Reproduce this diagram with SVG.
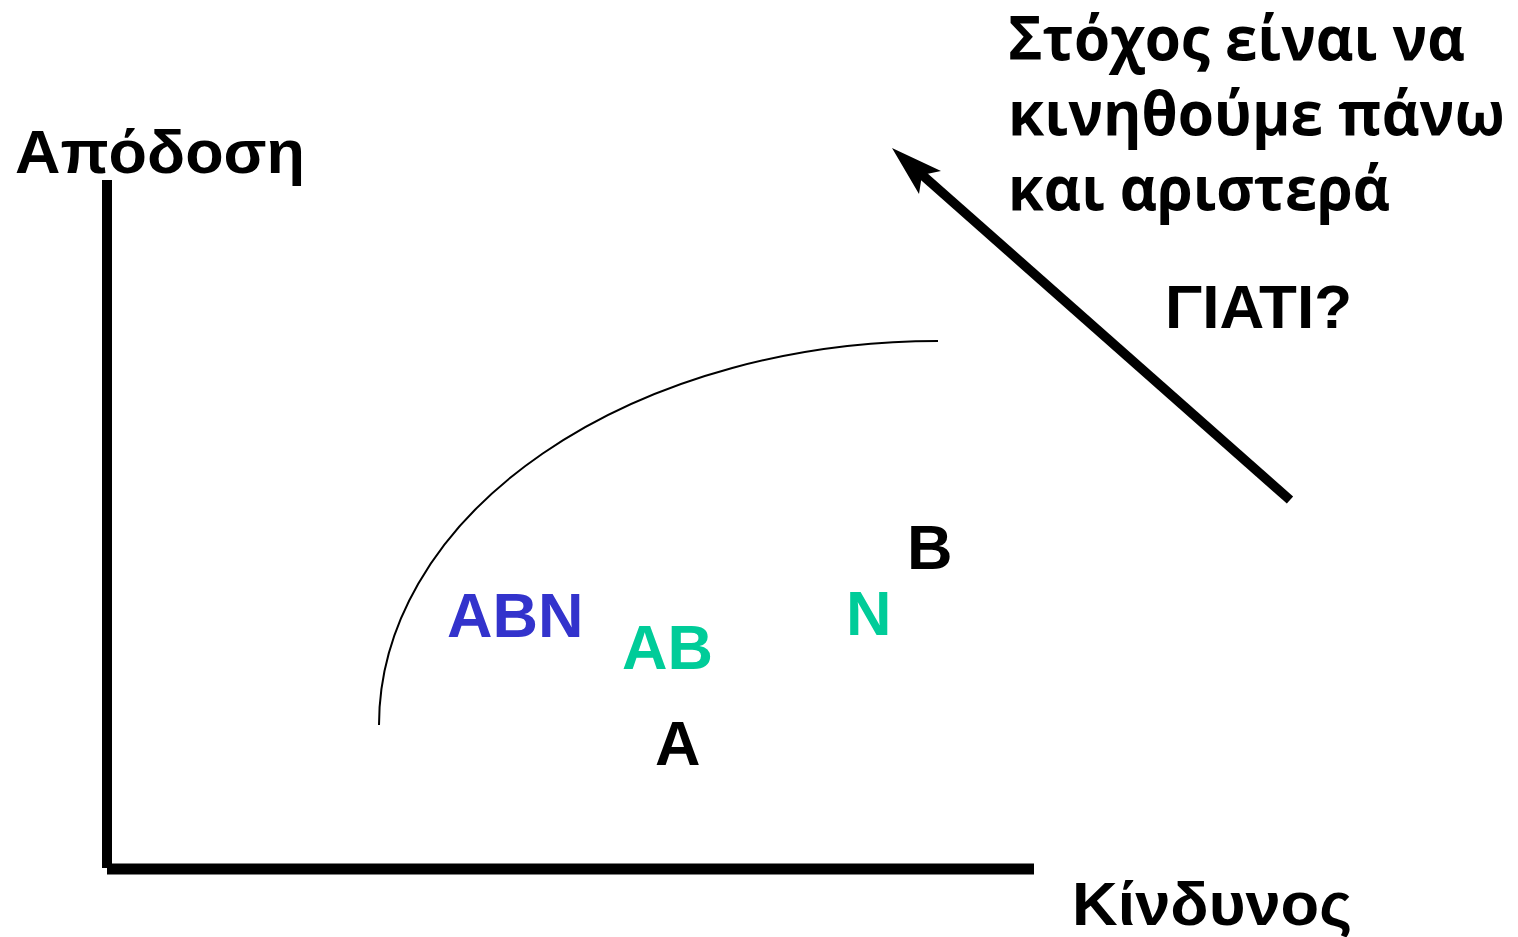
<svg xmlns="http://www.w3.org/2000/svg" width="1518" height="937" viewBox="0 0 1518 937">
<style>
.lbl{font-family:"Liberation Sans",Arial,sans-serif;font-weight:bold}
.note{font-family:"Open Sans","Noto Sans",sans-serif;font-weight:bold;font-size:60px}
</style>
<rect width="1518" height="937" fill="#fff"/>
<g id="axes" stroke="#000" fill="none">
<line x1="107" y1="180" x2="107" y2="868" stroke-width="10"/>
<line x1="107" y1="869" x2="1034" y2="869" stroke-width="11"/>
</g>
<g id="connectors">
<path d="M379,725 A559,384 0 0 1 938,341" fill="none" stroke="#000" stroke-width="2"/>
<line x1="1290" y1="500" x2="920" y2="173" stroke="#000" stroke-width="9.5"/>
<polygon points="892,148 941,171 922,175 919,194" fill="#000"/>
</g>
<g id="label-yaxis"><text class="lbl" x="15" y="173" font-size="61" textLength="290" lengthAdjust="spacingAndGlyphs">Απόδοση</text></g>
<g id="label-xaxis"><text class="lbl" x="1072" y="925" font-size="61" textLength="280" lengthAdjust="spacingAndGlyphs">Κίνδυνος</text></g>
<g id="note">
<text class="note" x="1008" y="60" textLength="457" lengthAdjust="spacingAndGlyphs">Στόχος είναι να</text>
<text class="note" x="1008" y="135" textLength="497" lengthAdjust="spacingAndGlyphs">κινηθούμε πάνω</text>
<text class="note" x="1008" y="210" textLength="382" lengthAdjust="spacingAndGlyphs">και αριστερά</text>
</g>
<g id="why"><text class="lbl" x="1165" y="328" font-size="61" textLength="187" lengthAdjust="spacingAndGlyphs">ΓΙΑΤΙ?</text></g>
<g id="pt-ABN"><text class="lbl" x="447" y="637" font-size="63" fill="#3333CC">ABN</text></g>
<g id="pt-AB"><text class="lbl" x="622" y="669" font-size="63" fill="#00CC99">AB</text></g>
<g id="pt-N"><text class="lbl" x="846" y="635" font-size="63" fill="#00CC99">N</text></g>
<g id="pt-B"><text class="lbl" x="907" y="569" font-size="63" fill="#000">B</text></g>
<g id="pt-A"><text class="lbl" x="655" y="765" font-size="63" fill="#000">A</text></g>
</svg>
